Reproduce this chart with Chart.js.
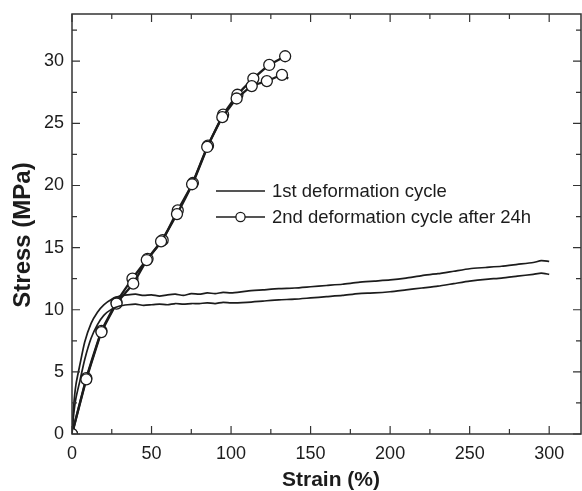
<!DOCTYPE html>
<html>
<head>
<meta charset="utf-8">
<script src="https://cdn.jsdelivr.net/npm/chart.js@4"></script>
<style>
html,body{margin:0;padding:0;background:#fff;}
#wrap{position:relative;width:582px;height:491px;}
</style>
</head>
<body>
<div id="wrap"><canvas id="c" width="582" height="491"></canvas></div>
<script>
// ---- data ----
const xTickValues = [0, 50, 100, 150, 200, 250, 300];
const yTickValues = [0, 5, 10, 15, 20, 25, 30];

const cycle1Strain = [0,1,2.5,5,8,12,16,20,25,30,35,40,45,50,55,60,65,70,75,80,85,90,95,100,110,120,130,140,150,160,170,180,190,200,210,220,230,240,250,260,270,280,290,295,300];
const cycle1StressA = [0,2.2,4.0,5.6,7.4,8.9,9.8,10.4,10.85,11.1,11.2,11.25,11.15,11.2,11.1,11.2,11.25,11.15,11.3,11.25,11.35,11.3,11.4,11.35,11.5,11.6,11.7,11.75,11.85,11.95,12.05,12.2,12.3,12.4,12.55,12.75,12.9,13.1,13.3,13.4,13.5,13.65,13.8,13.95,13.9];
const cycle1StressB = [0,1.5,2.9,4.3,6.0,7.7,8.8,9.55,10.05,10.3,10.4,10.45,10.35,10.4,10.45,10.4,10.5,10.45,10.5,10.5,10.55,10.5,10.6,10.55,10.6,10.7,10.8,10.85,10.95,11.05,11.15,11.3,11.35,11.45,11.6,11.75,11.9,12.1,12.3,12.45,12.55,12.7,12.85,12.95,12.85];

const cycle2StrainA = [0,9,18.5,28,38,47.5,57,66.5,76,85.5,95,104,114,124,134,137];
const cycle2StressA = [0,4.5,8.3,10.6,12.5,14.1,15.6,18.0,20.2,23.2,25.7,27.3,28.6,29.7,30.4,30.6];
const cycle2StrainB = [0,9,18.5,28,38.5,47,56,66,75.5,85,94.5,103.5,113,122.5,132,136];
const cycle2StressB = [0,4.4,8.2,10.5,12.1,14.0,15.5,17.7,20.1,23.1,25.5,27.0,28.0,28.4,28.9,28.6];

const legendLabels = ['1st deformation cycle', '2nd deformation cycle after 24h'];
const xTitle = 'Strain (%)';
const yTitle = 'Stress (MPa)';

// ---- build ----
const pts = (xs, ys) => xs.map((x, i) => ({x: x, y: ys[i]}));
const INK = '#1c1c1c';
const FONT = "'Liberation Sans', Arial, sans-serif";

const markerRadius = ctx => (ctx.dataIndex === ctx.dataset.data.length - 1 ? 0 : 5.5);

const datasets = [
  {data: pts(cycle1Strain, cycle1StressA), borderColor: INK, borderWidth: 1.7, pointRadius: 0, tension: 0.2},
  {data: pts(cycle1Strain, cycle1StressB), borderColor: INK, borderWidth: 1.7, pointRadius: 0, tension: 0.2},
  {data: pts(cycle2StrainB, cycle2StressB), borderColor: INK, borderWidth: 2.3, pointRadius: markerRadius,
   pointBackgroundColor: '#fff', pointBorderColor: INK, pointBorderWidth: 1.3, tension: 0.1},
  {data: pts(cycle2StrainA, cycle2StressA), borderColor: INK, borderWidth: 2.3, pointRadius: markerRadius,
   pointBackgroundColor: '#fff', pointBorderColor: INK, pointBorderWidth: 1.3, tension: 0.1}
];

const framePlugin = {
  id: 'frame',
  afterDatasetsDraw(chart) {
    const {ctx, chartArea: a, scales: {x, y}} = chart;
    ctx.save();
    ctx.strokeStyle = '#333';
    ctx.lineWidth = 1.5;
    ctx.strokeRect(a.left, a.top, a.right - a.left, a.bottom - a.top);
    ctx.lineWidth = 1.2;
    ctx.beginPath();
    for (let v = 0; v <= x.max; v += 25) {
      const px = x.getPixelForValue(v);
      const len = (v % 50 === 0) ? 8 : 5;
      ctx.moveTo(px, a.bottom); ctx.lineTo(px, a.bottom - len);
      ctx.moveTo(px, a.top); ctx.lineTo(px, a.top + len);
    }
    for (let v = 0; v <= y.max; v += 2.5) {
      const py = y.getPixelForValue(v);
      const len = (v % 5 === 0) ? 8 : 5;
      ctx.moveTo(a.left, py); ctx.lineTo(a.left + len, py);
      ctx.moveTo(a.right, py); ctx.lineTo(a.right - len, py);
    }
    ctx.stroke();
    // axis titles
    ctx.fillStyle = INK;
    ctx.textAlign = 'center';
    ctx.textBaseline = 'middle';
    ctx.font = 'bold 21px ' + FONT;
    ctx.fillText(xTitle, 331, 480);
    ctx.save();
    ctx.translate(23, 235);
    ctx.rotate(-Math.PI / 2);
    ctx.font = 'bold 24px ' + FONT;
    ctx.fillText(yTitle, 0, 0);
    ctx.restore();
    // legend
    const lx0 = 216, lx1 = 265, tx = 272, rows = [191, 217];
    ctx.textAlign = 'left';
    ctx.strokeStyle = INK;
    ctx.lineWidth = 1.6;
    ctx.font = '18.5px ' + FONT;
    rows.forEach((ry, i) => {
      ctx.beginPath(); ctx.moveTo(lx0, ry); ctx.lineTo(lx1, ry); ctx.stroke();
      if (i === 1) {
        ctx.beginPath(); ctx.arc((lx0 + lx1) / 2, ry, 4.6, 0, Math.PI * 2);
        ctx.fillStyle = '#fff'; ctx.fill(); ctx.lineWidth = 1.3; ctx.stroke();
        ctx.fillStyle = INK;
      }
      ctx.fillText(legendLabels[i], tx, ry + 1);
    });
    ctx.restore();
  }
};

const zeroPad = s => { s.paddingTop = 0; s.paddingBottom = 0; s.paddingLeft = 0; s.paddingRight = 0; };

new Chart(document.getElementById('c'), {
  type: 'line',
  data: {datasets},
  options: {
    responsive: false,
    animation: false,
    layout: {autoPadding: false, padding: {top: 14, right: 1, left: 0, bottom: 0}},
    plugins: {legend: {display: false}, tooltip: {enabled: false}},
    scales: {
      x: {
        type: 'linear', min: 0, max: 320,
        grid: {display: false, drawTicks: false},
        border: {display: false},
        afterBuildTicks: s => { s.ticks = xTickValues.map(v => ({value: v})); },
        afterFit: s => { s.height = 57; zeroPad(s); },
        ticks: {color: INK, font: {family: FONT, size: 18}, padding: 9, maxRotation: 0},
        title: {display: false}
      },
      y: {
        type: 'linear', min: 0, max: 33.8,
        grid: {display: false, drawTicks: false},
        border: {display: false},
        afterBuildTicks: s => { s.ticks = yTickValues.map(v => ({value: v})); },
        afterFit: s => { s.width = 72; zeroPad(s); },
        ticks: {color: INK, font: {family: FONT, size: 18}, padding: 8},
        title: {display: false}
      }
    }
  },
  plugins: [framePlugin]
});
</script>
</body>
</html>
